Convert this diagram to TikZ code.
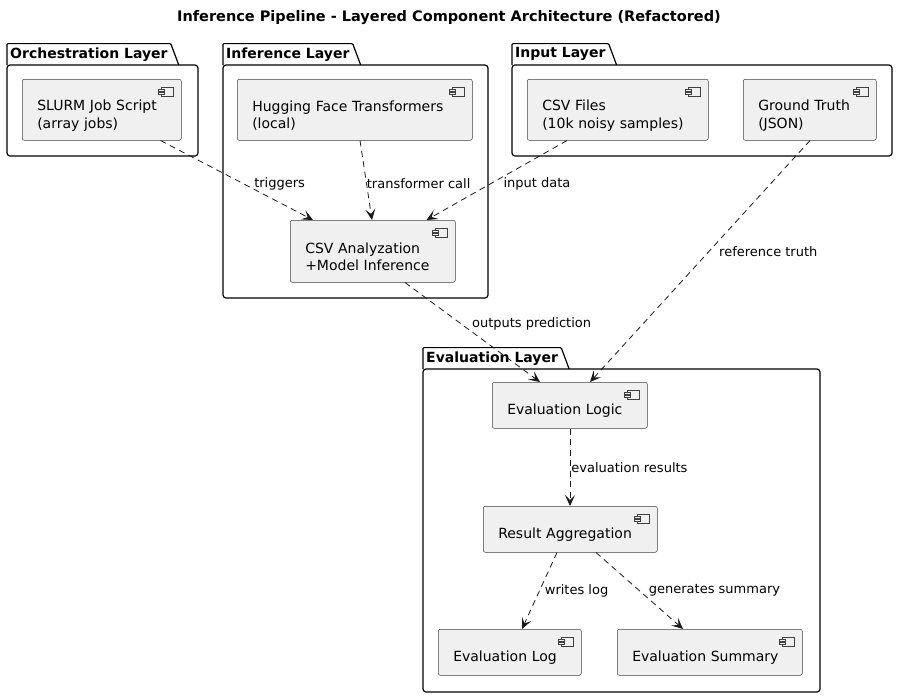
\documentclass[tikz,border=0pt]{standalone}
\usepackage{fontspec}
\setmainfont{DejaVu Sans}
\usetikzlibrary{arrows.meta, calc}
\tikzset{
    comp/.style 2 args={rectangle, draw=black!75, fill=black!6, line width=0.5pt,
                        rounded corners=2pt, anchor=north west, align=left,
                        inner xsep=15pt, text width=#1, minimum height=#2,
                        font=\fontsize{14}{17.5}\selectfont,
                        execute at begin node={\rule{0pt}{22pt}}},
    layer/.style={draw=black, line width=1.2pt, line join=round},
    layertitle/.style={anchor=south west, inner xsep=3pt, inner ysep=0pt,
                       minimum height=21pt, font=\fontsize{14}{17}\selectfont\bfseries},
    dep/.style={-{Stealth[length=11pt, width=10pt, inset=5pt]}, draw=black!90,
                line width=0.8pt, dash pattern=on 6pt off 4.5pt},
    lbl/.style={font=\fontsize{13}{15}\selectfont, anchor=west, inner sep=0pt},
}
% package frame: name, x0, body top, x1, body bottom, title
\newcommand{\layerbox}[6]{%
    \node[layertitle] (#1-t) at (#2,#3) {#6};
    \draw[layer, rounded corners=1pt] (#2,#3) |- (#1-t.north east) -- ([xshift=8pt]#1-t.south east);
    \draw[layer, rounded corners=3pt] (#2,#3) rectangle (#4,#5);
}
% little component glyph in the top right corner
\newcommand{\compicon}[1]{%
    \draw[black!75, line width=0.5pt, fill=black!6]
        ($(#1.north east)+(-20,8)$) rectangle ($(#1.north east)+(-8,17)$);
    \draw[black!75, line width=0.5pt, fill=black!6]
        ($(#1.north east)+(-23,10)$) rectangle ($(#1.north east)+(-17,12)$);
    \draw[black!75, line width=0.5pt, fill=black!6]
        ($(#1.north east)+(-23,13.5)$) rectangle ($(#1.north east)+(-17,15.5)$);
}

\begin{document}
\begin{tikzpicture}[x=1pt, y=-1pt]

    \fill[white] (0,0) rectangle (899,697);
    \useasboundingbox (0,0) rectangle (899,697);

    % Title
    \node[font=\fontsize{14.5}{17}\selectfont\bfseries] (title) at (449,18)
        {Inference Pipeline - Layered Component Architecture (Refactored)};

    % Layers
    \layerbox{orch}{7}{65}{198}{156}{Orchestration Layer}
    \layerbox{infer}{223}{65}{488}{298}{Inference Layer}
    \layerbox{input}{512}{65}{892}{156}{Input Layer}
    \layerbox{eval}{423}{369}{820}{692}{Evaluation Layer}

    % Components
    \node[comp={129pt}{61pt}] (slurm)  at (22,79)   {SLURM Job Script\\(array jobs)};
    \node[comp={205pt}{61pt}] (hf)     at (237,79)  {Hugging Face Transformers\\(local)};
    \node[comp={135pt}{62pt}] (csva)   at (290,220) {CSV Analyzation\\+Model Inference};
    \node[comp={151pt}{61pt}] (csvf)   at (527,79)  {CSV Files\\(10k noisy samples)};
    \node[comp={103pt}{61pt}] (gt)     at (743,79)  {Ground Truth\\(JSON)};
    \node[comp={125pt}{46pt}] (logic)  at (492,382) {Evaluation Logic};
    \node[comp={144pt}{46pt}] (agg)    at (483,506) {Result Aggregation};
    \node[comp={113pt}{46pt}] (evlog)  at (438,629) {Evaluation Log};
    \node[comp={155pt}{46pt}] (evsum)  at (617,629) {Evaluation Summary};

    \foreach \c in {slurm,hf,csva,csvf,gt,logic,agg,evlog,evsum}
        {\compicon{\c}}

    % Dependencies
    \draw[dep] ([xshift=-21pt]slurm.south east) --
        node[lbl, pos=0.54, xshift=11pt] {triggers} ([xshift=23pt]csva.north west);
    \draw[dep] ([xshift=123pt]hf.south west) --
        node[lbl, pos=0.54, xshift=0pt] {transformer call} ([xshift=82pt]csva.north west);
    \draw[dep] ([xshift=40pt]csvf.south west) --
        node[lbl, pos=0.54, xshift=12pt] {input data} ([xshift=-29pt]csva.north east);
    \draw[dep] ([xshift=67pt]gt.south west) --
        node[lbl, pos=0.46, xshift=10pt] {reference truth} ([xshift=98pt]logic.north west);
    \draw[dep] ([xshift=115pt]csva.south west) --
        node[lbl, pos=0.42, xshift=10pt] {outputs prediction} ([xshift=48pt]logic.north west);
    \draw[dep] ([xshift=78pt]logic.south west) --
        node[lbl, pos=0.5, xshift=1pt] {evaluation results} ([xshift=87pt]agg.north west);
    \draw[dep] ([xshift=74pt]agg.south west) --
        node[lbl, pos=0.5, xshift=5pt] {writes log} ([xshift=84pt]evlog.north west);
    \draw[dep] ([xshift=113pt]agg.south west) --
        node[lbl, pos=0.5, xshift=9pt] {generates summary} ([xshift=66pt]evsum.north west);

\end{tikzpicture}
\end{document}
